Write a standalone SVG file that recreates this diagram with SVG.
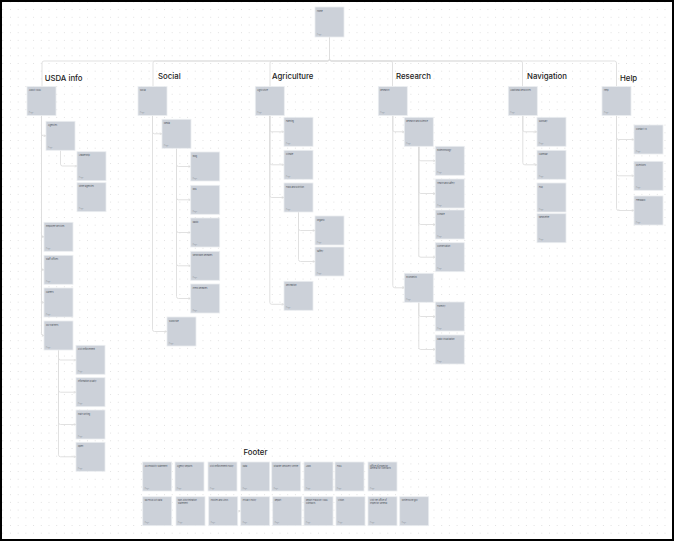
<svg xmlns="http://www.w3.org/2000/svg" width="674" height="541" viewBox="0 0 674 541">
  <defs>
    <pattern id="dots" x="2.3" y="1.4" width="7.7" height="7.7" patternUnits="userSpaceOnUse">
      <circle cx="0.5" cy="0.5" r="0.5" fill="#d6d6d6"/>
    </pattern>
    <marker id="tip" viewBox="0 0 4 4" refX="3.6" refY="2" markerWidth="3" markerHeight="3" orient="auto" markerUnits="userSpaceOnUse">
      <path d="M0.5,0.5 L3.6,2 L0.5,3.5" fill="none" stroke="#d6d6d6" stroke-width="0.7"/>
    </marker>
    <style>
      .card { fill: #ccd1d9; stroke: #eceef1; stroke-width: 0.8; }
      .t { font-family: "Inter", "Liberation Sans", sans-serif; font-size: 2.05px; fill: #454a52; }
      .s { font-family: "Inter", "Liberation Sans", sans-serif; font-size: 1.8px; fill: #959ba3; }
      .h { font-family: "Inter", "Liberation Sans", sans-serif; font-size: 7.8px; font-weight: 500; fill: #222; }
      .c { fill: none; stroke: #dedede; stroke-width: 0.9; }
      .ca { fill: none; stroke: #dedede; stroke-width: 0.9; marker-end: url(#tip); }
    </style>
  </defs>

  <rect width="674" height="541" fill="#ffffff"/>
  <rect width="674" height="541" fill="url(#dots)"/>

  <!-- connectors -->
  <g id="connectors">
    <!-- root to sections -->
    <path class="c" d="M329.5,37 V59 Q329.5,61 327.5,61 H44 Q42,61 42,63 V86.5"/>
    <path class="c" d="M329.5,37 V59 Q329.5,61 327.5,61 H155 Q153,61 153,63 V86.5"/>
    <path class="c" d="M329.5,37 V59 Q329.5,61 327.5,61 H272 Q270,61 270,63 V86.5"/>
    <path class="c" d="M329.5,37 V59 Q329.5,61 331.5,61 H390.5 Q392.5,61 392.5,63 V86.5"/>
    <path class="c" d="M329.5,37 V59 Q329.5,61 331.5,61 H520.5 Q522.5,61 522.5,63 V86.5"/>
    <path class="c" d="M329.5,37 V59 Q329.5,61 331.5,61 H614.5 Q616.5,61 616.5,63 V86.5"/>

    <!-- USDA info -->
    <path class="ca" d="M41.5,115.5 V133.8 Q41.5,135.8 43.5,135.8 H46"/>
    <path class="ca" d="M60.5,150.3 V164 Q60.5,166 62.5,166 H77"/>
    <path class="ca" d="M41.5,115.5 V234.8 Q41.5,236.8 43,236.8 H44"/>
    <path class="ca" d="M41.5,115.5 V267.8 Q41.5,269.8 43,269.8 H44"/>
    <path class="ca" d="M41.5,115.5 V300.5 Q41.5,302.5 43,302.5 H44"/>
    <path class="ca" d="M41.5,115.5 V333.5 Q41.5,335.5 43,335.5 H44"/>
    <path class="ca" d="M58.5,350 V358 Q58.5,360 60.5,360 H76"/>
    <path class="ca" d="M58.5,350 V390.2 Q58.5,392.2 60.5,392.2 H76"/>
    <path class="ca" d="M58.5,350 V422.5 Q58.5,424.5 60.5,424.5 H76"/>
    <path class="ca" d="M58.5,350 V454.8 Q58.5,456.8 60.5,456.8 H76"/>

    <!-- Social -->
    <path class="ca" d="M152.5,115.5 V131.8 Q152.5,133.8 154.5,133.8 H162"/>
    <path class="ca" d="M176.5,148.3 V164.5 Q176.5,166.5 178.5,166.5 H190.7"/>
    <path class="ca" d="M176.5,148.3 V197.8 Q176.5,199.8 178.5,199.8 H190.7"/>
    <path class="ca" d="M176.5,148.3 V230.5 Q176.5,232.5 178.5,232.5 H190.7"/>
    <path class="ca" d="M176.5,148.3 V263.8 Q176.5,265.8 178.5,265.8 H190.7"/>
    <path class="ca" d="M176.5,148.3 V296.5 Q176.5,298.5 178.5,298.5 H190.7"/>
    <path class="ca" d="M152.5,115.5 V329.5 Q152.5,331.5 154.5,331.5 H167"/>

    <!-- Agriculture -->
    <path class="ca" d="M269.8,115.5 V129.8 Q269.8,131.8 271.8,131.8 H284"/>
    <path class="ca" d="M269.8,115.5 V162.8 Q269.8,164.8 271.8,164.8 H284"/>
    <path class="ca" d="M269.8,115.5 V195.5 Q269.8,197.5 271.8,197.5 H284"/>
    <path class="ca" d="M269.8,115.5 V302.3 Q269.8,304.3 271.8,304.3 H284"/>
    <path class="ca" d="M298.5,212 V228.5 Q298.5,230.5 300.5,230.5 H315"/>
    <path class="ca" d="M298.5,212 V259.5 Q298.5,261.5 300.5,261.5 H315"/>

    <!-- Research -->
    <path class="ca" d="M392.8,115.5 V129.8 Q392.8,131.8 394.8,131.8 H404.3"/>
    <path class="ca" d="M418.8,146.3 V158.8 Q418.8,160.8 420.8,160.8 H435.3"/>
    <path class="ca" d="M418.8,146.3 V191.5 Q418.8,193.5 420.8,193.5 H435.3"/>
    <path class="ca" d="M418.8,146.3 V222.5 Q418.8,224.5 420.8,224.5 H435.3"/>
    <path class="ca" d="M418.8,146.3 V255.2 Q418.8,257.2 420.8,257.2 H435.3"/>
    <path class="ca" d="M392.8,115.5 V285.8 Q392.8,287.8 394.8,287.8 H404.3"/>
    <path class="ca" d="M418.8,302.3 V314.5 Q418.8,316.5 420.8,316.5 H435.3"/>
    <path class="ca" d="M418.8,302.3 V347.5 Q418.8,349.5 420.8,349.5 H435.3"/>

    <!-- Navigation -->
    <path class="ca" d="M522.8,115.5 V129.8 Q522.8,131.8 524.8,131.8 H537"/>
    <path class="ca" d="M522.8,115.5 V162.8 Q522.8,164.8 524.8,164.8 H537"/>

    <!-- Help -->
    <path class="ca" d="M616.5,115.5 V137.5 Q616.5,139.5 618.5,139.5 H634"/>
    <path class="ca" d="M616.5,115.5 V173.8 Q616.5,175.8 618.5,175.8 H634"/>
    <path class="ca" d="M616.5,115.5 V208.5 Q616.5,210.5 618.5,210.5 H634"/>

    <!-- footer -->
    <path class="ca" d="M237.8,511 H240.7"/>
  </g>

  <!-- section headings -->
  <g id="headings">
    <text class="h" x="44.7" y="80.5">USDA info</text>
    <text class="h" x="158" y="79">Social</text>
    <text class="h" x="272" y="79">Agriculture</text>
    <text class="h" x="396" y="79">Research</text>
    <text class="h" x="527" y="79">Navigation</text>
    <text class="h" x="620" y="80.5">Help</text>
    <text class="h" x="243.5" y="454.5">Footer</text>
  </g>

  <!-- root -->
  <g id="home"><rect class="card" x="315" y="7" width="29" height="30"/><text class="t" x="317" y="11.5">Home</text><text class="s" x="317" y="34.5">Page</text></g>

  <!-- USDA info -->
  <g id="about-usda"><rect class="card" x="27" y="86.5" width="29" height="29"/><text class="t" x="29" y="91">About USDA</text><text class="s" x="29" y="113">Page</text></g>
  <g id="agencies"><rect class="card" x="46" y="121.3" width="29" height="29"/><text class="t" x="48" y="125.8">Agencies</text><text class="s" x="48" y="147.8">Page</text></g>
  <g id="leadership"><rect class="card" x="77" y="151.7" width="29" height="29"/><text class="t" x="79" y="156.2">Leadership</text><text class="s" x="79" y="178.2">Page</text></g>
  <g id="other-agencies"><rect class="card" x="77" y="182.7" width="29" height="29"/><text class="t" x="79" y="187.2">Other agencies</text><text class="s" x="79" y="209.2">Page</text></g>
  <g id="employee-services"><rect class="card" x="44" y="222.3" width="29" height="29"/><text class="t" x="46" y="226.8">Employee Services</text><text class="s" x="46" y="248.8">Page</text></g>
  <g id="staff-offices"><rect class="card" x="44" y="255.3" width="29" height="29"/><text class="t" x="46" y="259.8">Staff Offices</text><text class="s" x="46" y="281.8">Page</text></g>
  <g id="careers"><rect class="card" x="44" y="288" width="29" height="29"/><text class="t" x="46" y="292.5">Careers</text><text class="s" x="46" y="314.5">Page</text></g>
  <g id="our-partners"><rect class="card" x="44" y="321" width="29" height="29"/><text class="t" x="46" y="325.5">Our Partners</text><text class="s" x="46" y="347.5">Page</text></g>
  <g id="civil-enforcement"><rect class="card" x="76" y="345.3" width="29" height="29"/><text class="t" x="78" y="349.8">Civil Enforcement</text><text class="s" x="78" y="371.8">Page</text></g>
  <g id="information-quality"><rect class="card" x="76" y="377.7" width="29" height="29"/><text class="t" x="78" y="382.2">Information Quality</text><text class="s" x="78" y="404.2">Page</text></g>
  <g id="plain-writing"><rect class="card" x="76" y="410" width="29" height="29"/><text class="t" x="78" y="414.5">Plain Writing</text><text class="s" x="78" y="436.5">Page</text></g>
  <g id="open"><rect class="card" x="76" y="442.3" width="29" height="29"/><text class="t" x="78" y="446.8">Open</text><text class="s" x="78" y="468.8">Page</text></g>

  <!-- Social -->
  <g id="social"><rect class="card" x="138" y="86.5" width="29" height="29"/><text class="t" x="140" y="91">Social</text><text class="s" x="140" y="113">Page</text></g>
  <g id="media"><rect class="card" x="162" y="119.3" width="29" height="29"/><text class="t" x="164" y="123.8">Media</text><text class="s" x="164" y="145.8">Page</text></g>
  <g id="blog"><rect class="card" x="190.7" y="152" width="29" height="29"/><text class="t" x="192.7" y="156.5">Blog</text><text class="s" x="192.7" y="178.5">Page</text></g>
  <g id="rss"><rect class="card" x="190.7" y="185.3" width="29" height="29"/><text class="t" x="192.7" y="189.8">RSS</text><text class="s" x="192.7" y="211.8">Page</text></g>
  <g id="radio"><rect class="card" x="190.7" y="218" width="29" height="29"/><text class="t" x="192.7" y="222.5">Radio</text><text class="s" x="192.7" y="244.5">Page</text></g>
  <g id="newsroom"><rect class="card" x="190.7" y="251.3" width="29" height="29"/><text class="t" x="192.7" y="255.8">Newsroom Releases</text><text class="s" x="192.7" y="277.8">Page</text></g>
  <g id="press-releases"><rect class="card" x="190.7" y="284" width="29" height="29"/><text class="t" x="192.7" y="288.5">Press Releases</text><text class="s" x="192.7" y="310.5">Page</text></g>
  <g id="subscribe"><rect class="card" x="167" y="317" width="29" height="29"/><text class="t" x="169" y="321.5">Subscribe</text><text class="s" x="169" y="343.5">Page</text></g>

  <!-- Agriculture -->
  <g id="agriculture"><rect class="card" x="255.3" y="86.5" width="29" height="29"/><text class="t" x="257.3" y="91">Agriculture</text><text class="s" x="257.3" y="113">Page</text></g>
  <g id="farming"><rect class="card" x="284" y="117.3" width="29" height="29"/><text class="t" x="286" y="121.8">Farming</text><text class="s" x="286" y="143.8">Page</text></g>
  <g id="climate"><rect class="card" x="284" y="150.3" width="29" height="29"/><text class="t" x="286" y="154.8">Climate</text><text class="s" x="286" y="176.8">Page</text></g>
  <g id="food-nutrition"><rect class="card" x="284" y="183" width="29" height="29"/><text class="t" x="286" y="187.5">Food and Nutrition</text><text class="s" x="286" y="209.5">Page</text></g>
  <g id="organic"><rect class="card" x="315" y="216" width="29" height="29"/><text class="t" x="317" y="220.5">Organic</text><text class="s" x="317" y="242.5">Page</text></g>
  <g id="safety"><rect class="card" x="315" y="247" width="29" height="29"/><text class="t" x="317" y="251.5">Safety</text><text class="s" x="317" y="273.5">Page</text></g>
  <g id="recreation"><rect class="card" x="284" y="281.3" width="29" height="29"/><text class="t" x="286" y="285.8">Recreation</text><text class="s" x="286" y="307.8">Page</text></g>

  <!-- Research -->
  <g id="research"><rect class="card" x="378.3" y="86.5" width="29" height="29"/><text class="t" x="380.3" y="91">Research</text><text class="s" x="380.3" y="113">Page</text></g>
  <g id="research-science"><rect class="card" x="404.3" y="117.3" width="29" height="29"/><text class="t" x="406.3" y="121.8">Research and Science</text><text class="s" x="406.3" y="143.8">Page</text></g>
  <g id="biotechnology"><rect class="card" x="435.3" y="146.3" width="29" height="29"/><text class="t" x="437.3" y="150.8">Biotechnology</text><text class="s" x="437.3" y="172.8">Page</text></g>
  <g id="health-safety"><rect class="card" x="435.3" y="179" width="29" height="29"/><text class="t" x="437.3" y="183.5">Health and Safety</text><text class="s" x="437.3" y="205.5">Page</text></g>
  <g id="climate-research"><rect class="card" x="435.3" y="210" width="29" height="29"/><text class="t" x="437.3" y="214.5">Climate</text><text class="s" x="437.3" y="236.5">Page</text></g>
  <g id="conservation"><rect class="card" x="435.3" y="242.7" width="29" height="29"/><text class="t" x="437.3" y="247.2">Conservation</text><text class="s" x="437.3" y="269.2">Page</text></g>
  <g id="economics"><rect class="card" x="404.3" y="273.3" width="29" height="29"/><text class="t" x="406.3" y="277.8">Economics</text><text class="s" x="406.3" y="299.8">Page</text></g>
  <g id="forestry"><rect class="card" x="435.3" y="302" width="29" height="29"/><text class="t" x="437.3" y="306.5">Forestry</text><text class="s" x="437.3" y="328.5">Page</text></g>
  <g id="data-visualization"><rect class="card" x="435.3" y="335" width="29" height="29"/><text class="t" x="437.3" y="339.5">Data Visualization</text><text class="s" x="437.3" y="361.5">Page</text></g>

  <!-- Navigation -->
  <g id="additional-resources"><rect class="card" x="508.3" y="86.5" width="29" height="29"/><text class="t" x="510.3" y="91">Additional Resources</text><text class="s" x="510.3" y="113">Page</text></g>
  <g id="glossary"><rect class="card" x="537" y="117.3" width="29" height="29"/><text class="t" x="539" y="121.8">Glossary</text><text class="s" x="539" y="143.8">Page</text></g>
  <g id="calendar"><rect class="card" x="537" y="150.3" width="29" height="29"/><text class="t" x="539" y="154.8">Calendar</text><text class="s" x="539" y="176.8">Page</text></g>
  <g id="faq"><rect class="card" x="537" y="183" width="29" height="29"/><text class="t" x="539" y="187.5">FAQ</text><text class="s" x="539" y="209.5">Page</text></g>
  <g id="newsletter"><rect class="card" x="537" y="213.7" width="29" height="29"/><text class="t" x="539" y="218.2">Newsletter</text><text class="s" x="539" y="240.2">Page</text></g>

  <!-- Help -->
  <g id="help"><rect class="card" x="602" y="86.5" width="29" height="29"/><text class="t" x="604" y="91">Help</text><text class="s" x="604" y="113">Page</text></g>
  <g id="contact-us"><rect class="card" x="634" y="125" width="29" height="29"/><text class="t" x="636" y="129.5">Contact Us</text><text class="s" x="636" y="151.5">Page</text></g>
  <g id="questions"><rect class="card" x="634" y="161.3" width="29" height="29"/><text class="t" x="636" y="165.8">Questions</text><text class="s" x="636" y="187.8">Page</text></g>
  <g id="feedback"><rect class="card" x="634" y="196" width="29" height="29"/><text class="t" x="636" y="200.5">Feedback</text><text class="s" x="636" y="222.5">Page</text></g>

  <!-- Footer row 1 -->
  <g id="f-accessibility"><rect class="card" x="142.7" y="462" width="29" height="29"/><text class="t" x="144.7" y="466.5">Accessibility Statement</text><text class="s" x="144.7" y="488.5">Page</text></g>
  <g id="f-agency-reports"><rect class="card" x="175" y="462" width="29" height="29"/><text class="t" x="177" y="466.5">Agency Reports</text><text class="s" x="177" y="488.5">Page</text></g>
  <g id="f-civil-enforcement"><rect class="card" x="208" y="462" width="29" height="29"/><text class="t" x="210" y="466.5">Civil Enforcement Policy</text><text class="s" x="210" y="488.5">Page</text></g>
  <g id="f-data"><rect class="card" x="240.7" y="462" width="29" height="29"/><text class="t" x="242.7" y="466.5">Data</text><text class="s" x="242.7" y="488.5">Page</text></g>
  <g id="f-disaster"><rect class="card" x="271.7" y="462" width="29" height="29"/><text class="t" x="273.7" y="466.5">Disaster Recovery Center</text><text class="s" x="273.7" y="488.5">Page</text></g>
  <g id="f-jobs"><rect class="card" x="304" y="462" width="29" height="29"/><text class="t" x="306" y="466.5">Jobs</text><text class="s" x="306" y="488.5">Page</text></g>
  <g id="f-foia"><rect class="card" x="335" y="462" width="29" height="29"/><text class="t" x="337" y="466.5">FOIA</text><text class="s" x="337" y="488.5">Page</text></g>
  <g id="f-inspector-general"><rect class="card" x="368" y="462" width="29" height="29"/><text class="t" x="370" y="466.5">Office of Inspector</text><text class="t" x="370" y="469.1">General for Contracts</text><text class="s" x="370" y="488.5">Page</text></g>

  <!-- Footer row 2 -->
  <g id="f-no-fear"><rect class="card" x="142.7" y="496.7" width="29" height="29"/><text class="t" x="144.7" y="501.2">No FEAR Act Data</text><text class="s" x="144.7" y="523.2">Page</text></g>
  <g id="f-non-discrimination"><rect class="card" x="176" y="496.7" width="29" height="29"/><text class="t" x="178" y="501.2">Non-Discrimination</text><text class="t" x="178" y="503.8">Statement</text><text class="s" x="178" y="523.2">Page</text></g>
  <g id="f-policies"><rect class="card" x="208.7" y="496.7" width="29" height="29"/><text class="t" x="210.7" y="501.2">Policies and Links</text><text class="s" x="210.7" y="523.2">Page</text></g>
  <g id="f-privacy"><rect class="card" x="240.7" y="496.7" width="29" height="29"/><text class="t" x="242.7" y="501.2">Privacy Policy</text><text class="s" x="242.7" y="523.2">Page</text></g>
  <g id="f-report"><rect class="card" x="272.7" y="496.7" width="29" height="29"/><text class="t" x="274.7" y="501.2">Report</text><text class="s" x="274.7" y="523.2">Page</text></g>
  <g id="f-report-fraud"><rect class="card" x="304" y="496.7" width="29" height="29"/><text class="t" x="306" y="501.2">Report Fraud on USDA</text><text class="t" x="306" y="503.8">Contracts</text><text class="s" x="306" y="523.2">Page</text></g>
  <g id="f-vision"><rect class="card" x="336" y="496.7" width="29" height="29"/><text class="t" x="338" y="501.2">Vision</text><text class="s" x="338" y="523.2">Page</text></g>
  <g id="f-visit-oig"><rect class="card" x="368" y="496.7" width="29" height="29"/><text class="t" x="370" y="501.2">Visit the Office of</text><text class="t" x="370" y="503.8">Inspector General</text><text class="s" x="370" y="523.2">Page</text></g>
  <g id="f-whitehouse"><rect class="card" x="399.7" y="496.7" width="29" height="29"/><text class="t" x="401.7" y="501.2">WhiteHouse.gov</text><text class="s" x="401.7" y="523.2">Page</text></g>

  <!-- frame -->
  <rect x="1" y="1" width="672" height="539" fill="none" stroke="#000" stroke-width="2"/>
</svg>
